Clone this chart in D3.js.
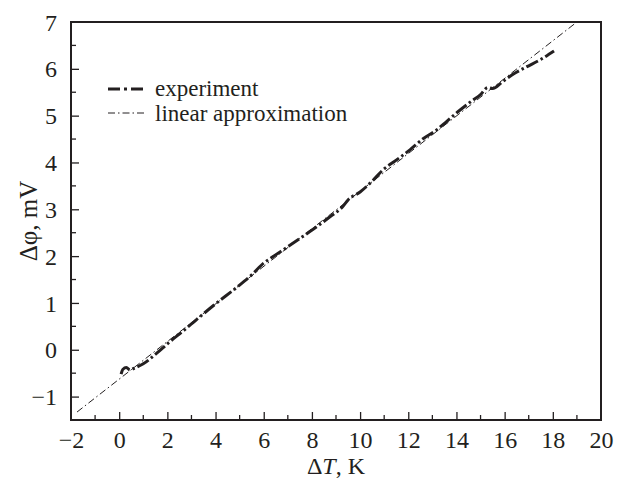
<!DOCTYPE html>
<html><head><meta charset="utf-8">
<script src="https://cdn.jsdelivr.net/npm/d3@7"></script>
<style>body{margin:0;background:#fff;} text{font-family:"Liberation Serif","Times New Roman",serif;fill:#231f20;}</style>
</head><body>
<svg id="c" width="617" height="479"></svg>
<script>
const expX = [0.08, 0.15, 0.3, 0.45, 0.6, 1.0, 1.5, 2.1, 2.7, 3.2, 4.0, 4.9, 5.5, 6.0, 6.3, 7.0, 7.9, 8.75, 9.3, 9.5, 10.0, 10.5, 10.95, 11.5, 12.07, 12.6, 13.19, 13.6, 14.1, 14.6, 15.0, 15.3, 15.5, 15.9, 16.4, 16.9, 17.5, 18.05];
const expY = [-0.52, -0.42, -0.38, -0.43, -0.4, -0.3, -0.1, 0.17, 0.42, 0.64, 0.98, 1.34, 1.6, 1.85, 1.96, 2.2, 2.52, 2.84, 3.07, 3.2, 3.37, 3.6, 3.84, 4.05, 4.27, 4.5, 4.7, 4.88, 5.1, 5.3, 5.45, 5.6, 5.58, 5.72, 5.9, 6.04, 6.2, 6.38];
const linX = [-1.75, 19.0];
const linY = [-1.33, 7.0];
const xTicks = [-2, 0, 2, 4, 6, 8, 10, 12, 14, 16, 18, 20];
const yTicks = [-1, 0, 1, 2, 3, 4, 5, 6, 7];
const legendLabels = ["experiment", "linear approximation"];

const svg = d3.select("#c");
const L = 71, R = 601, T = 22, B = 420;
const x = d3.scaleLinear().domain([-2, 20]).range([L, R]);
const y = d3.scaleLinear().domain([-1.5, 7]).range([B, T]);
const ink = "#231f20";
const fmt = d => d < 0 ? "\u2212" + Math.abs(d) : d;

const xMinor = d3.range(-1, 20, 2);
const yMinor = d3.range(-0.5, 7, 1);
const gx = svg.append("g").attr("transform", `translate(0,${B})`);
gx.call(d3.axisBottom(x).tickValues(xTicks).tickSize(-8).tickPadding(10).tickFormat(fmt));
gx.selectAll(".tick").filter(d => d === -2 || d === 20).select("line").remove();
gx.append("g").selectAll("line").data(xMinor).join("line")
  .attr("x1", d => x(d)).attr("x2", d => x(d)).attr("y1", 0).attr("y2", -5)
  .attr("stroke", ink).attr("stroke-width", 1.3);
gx.select(".domain").remove();
gx.selectAll(".tick line").attr("stroke", ink).attr("stroke-width", 1.3);
gx.selectAll(".tick text").attr("font-size", 24).attr("fill", ink).attr("y", 28).attr("dy", null);

const gy = svg.append("g").attr("transform", `translate(${L},0)`);
gy.call(d3.axisLeft(y).tickValues(yTicks).tickSize(-8).tickPadding(14).tickFormat(fmt));
gy.selectAll(".tick").filter(d => d === 7).select("line").remove();
gy.append("g").selectAll("line").data(yMinor).join("line")
  .attr("y1", d => y(d)).attr("y2", d => y(d)).attr("x1", 0).attr("x2", 5)
  .attr("stroke", ink).attr("stroke-width", 1.3);
gy.select(".domain").remove();
gy.selectAll(".tick line").attr("stroke", ink).attr("stroke-width", 1.3);
gy.selectAll(".tick text").attr("font-size", 24).attr("fill", ink).attr("dy", "0.34em");

svg.append("rect").attr("x", L).attr("y", T).attr("width", R - L).attr("height", B - T)
  .attr("fill", "none").attr("stroke", ink).attr("stroke-width", 2);

const line = d3.line().x(d => x(d[0])).y(d => y(d[1])).curve(d3.curveMonotoneX);

svg.append("path").datum(linX.map((v, i) => [v, linY[i]]))
  .attr("d", d3.line().x(d => x(d[0])).y(d => y(d[1])))
  .attr("fill", "none").attr("stroke", ink).attr("stroke-width", 1)
  .attr("stroke-dasharray", "7,3,1.5,3");

svg.append("path").datum(expX.map((v, i) => [v, expY[i]]))
  .attr("d", line)
  .attr("fill", "none").attr("stroke", ink).attr("stroke-width", 3)
  .attr("stroke-dasharray", "13,3,2.5,3");

const lg = svg.append("g");
lg.append("line").attr("x1", 108).attr("x2", 146).attr("y1", 89).attr("y2", 89)
  .attr("stroke", ink).attr("stroke-width", 3).attr("stroke-dasharray", "12,4,3,4");
lg.append("line").attr("x1", 108).attr("x2", 146).attr("y1", 113).attr("y2", 113)
  .attr("stroke", ink).attr("stroke-width", 1).attr("stroke-dasharray", "7,3,1.5,3");
lg.selectAll("text").data(legendLabels).join("text")
  .attr("x", 155).attr("y", (d, i) => 96 + i * 25)
  .attr("font-size", 23).attr("fill", ink).text(d => d);

const xt = svg.append("text").attr("x", 336).attr("y", 474).attr("text-anchor", "middle")
  .attr("font-size", 24).attr("fill", ink);
xt.append("tspan").text("\u0394");
xt.append("tspan").attr("font-style", "italic").text("T");
xt.append("tspan").text(", K");

svg.append("text").attr("transform", `translate(37,${(T + B) / 2}) rotate(-90)`)
  .attr("text-anchor", "middle").attr("font-size", 25).attr("fill", ink).text("\u0394\u03c6, mV");
</script>
</body></html>
